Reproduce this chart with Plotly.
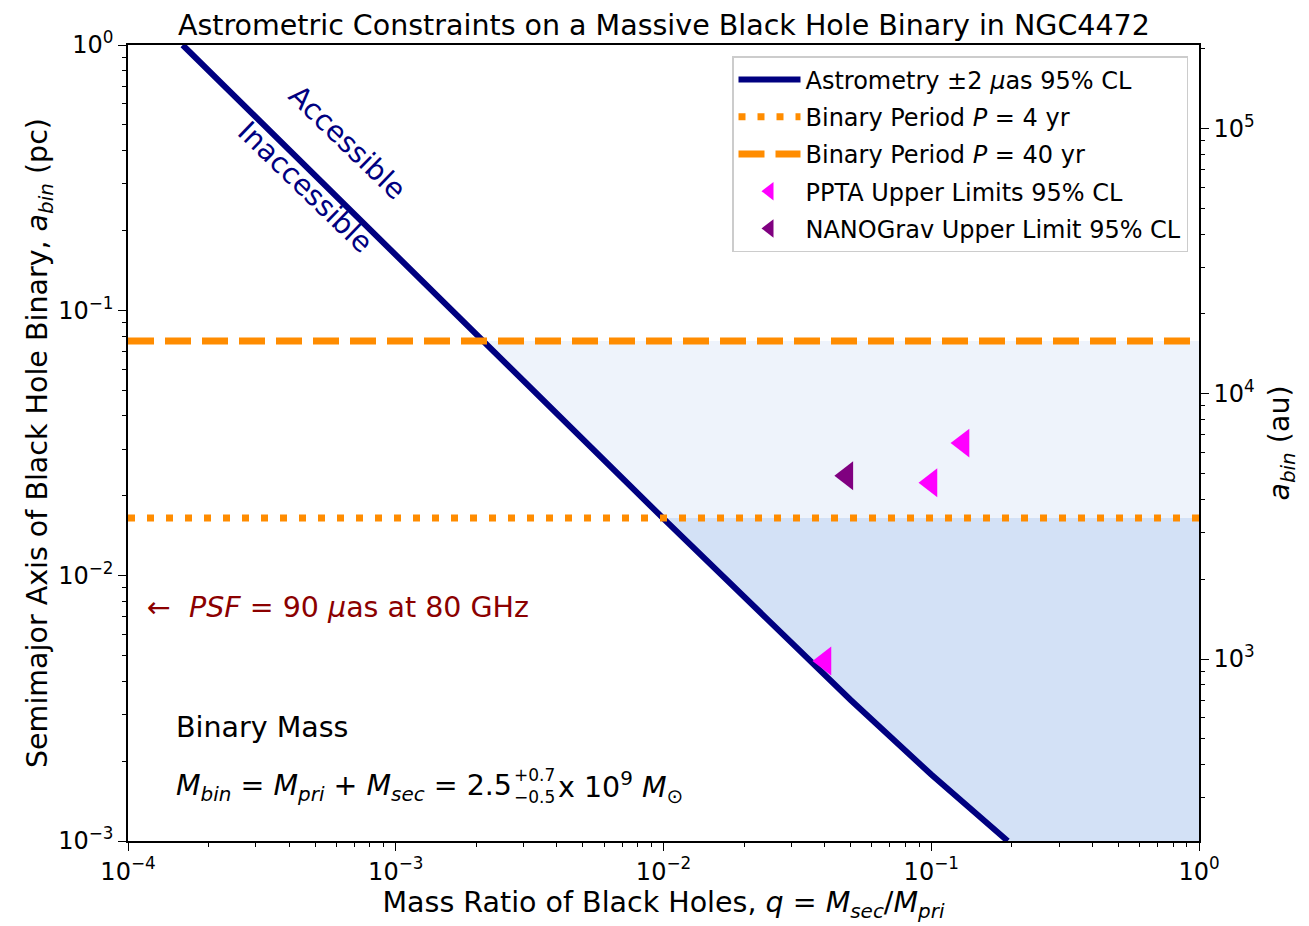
import numpy as np
import plotly.graph_objects as go

# ---------------- data ----------------
# astrometric limit line (q, a_bin [pc])
line_q = [1.6e-4, 1e-3, 2.1e-3, 1e-2, 5e-2, 0.1, 0.193]
line_a = [1.0, 0.162, 0.077, 0.0164, 0.0034, 0.00178, 0.001]

period_4yr_a = 0.0165   # pc
period_40yr_a = 0.0766  # pc

ppta_q = [0.1315, 0.0998, 0.0401]
ppta_a = [0.0316, 0.0224, 0.00477]
nano_q = [0.0484]
nano_a = [0.0238]

x_range = [1e-4, 1.0]
y_range = [1e-3, 1.0]
pc_to_au = 206265.0

x_ticks = [1e-4, 1e-3, 1e-2, 1e-1, 1.0]
x_ticktext = ["10<sup>−4</sup>", "10<sup>−3</sup>", "10<sup>−2</sup>", "10<sup>−1</sup>", "10<sup>0</sup>"]
y_ticks = [1e-3, 1e-2, 1e-1, 1.0]
y_ticktext = ["10<sup>−3</sup>", "10<sup>−2</sup>", "10<sup>−1</sup>", "10<sup>0</sup>"]
y2_ticks = [1e3, 1e4, 1e5]
y2_ticktext = ["10<sup>3</sup>", "10<sup>4</sup>", "10<sup>5</sup>"]

NAVY = "#000080"
ORANGE = "#ff8c00"
FONT = "DejaVu Sans"
FS_TICK = 24
FS_LARGE = 28.5

def minor_vals(lo_exp, hi_exp):
    return [m * 10.0 ** e for e in range(lo_exp, hi_exp) for m in range(2, 10)]

# intersection of line with a horizontal level (log interpolation)
lq = np.log10(line_q)
la = np.log10(line_a)
def q_at(a):
    return 10 ** np.interp(np.log10(a), la[::-1], lq[::-1])

q40 = q_at(period_40yr_a)
q4 = q_at(period_4yr_a)

fig = go.Figure()

# light region between P=40 and P=4 levels, right of line
mid_q = [q for q in line_q if q40 < q < q4]
mid_a = [a for q, a in zip(line_q, line_a) if q40 < q < q4]
fig.add_trace(go.Scatter(
    x=[q40, 1.0, 1.0, q4] + mid_q[::-1] + [q40],
    y=[period_40yr_a, period_40yr_a, period_4yr_a, period_4yr_a] + mid_a[::-1] + [period_40yr_a],
    fill="toself", fillcolor="#eef3fb", line=dict(width=0), mode="lines",
    showlegend=False, hoverinfo="skip"))

# darker region below P=4 level, right of line
low_q = [q for q in line_q if q > q4]
low_a = [a for q, a in zip(line_q, line_a) if q > q4]
fig.add_trace(go.Scatter(
    x=[q4, 1.0, 1.0] + low_q[::-1] + [q4],
    y=[period_4yr_a, period_4yr_a, y_range[0]] + low_a[::-1] + [period_4yr_a],
    fill="toself", fillcolor="#d3e1f6", line=dict(width=0), mode="lines",
    showlegend=False, hoverinfo="skip"))

fig.add_trace(go.Scatter(
    x=line_q, y=line_a, mode="lines", line=dict(color=NAVY, width=6),
    name="Astrometry ±2 <i>μ</i>as 95% CL", legendgroup="g1"))

fig.add_trace(go.Scatter(
    x=x_range, y=[period_4yr_a] * 2, mode="lines",
    line=dict(color=ORANGE, width=7, dash="7px,12px"),
    name="Binary Period <i>P</i> = 4 yr", legendgroup="g2"))

fig.add_trace(go.Scatter(
    x=x_range, y=[period_40yr_a] * 2, mode="lines",
    line=dict(color=ORANGE, width=7, dash="26px,11px"),
    name="Binary Period <i>P</i> = 40 yr", legendgroup="g3"))

fig.add_trace(go.Scatter(
    x=ppta_q, y=ppta_a, mode="markers",
    marker=dict(symbol="triangle-left", color="#ff00ff", size=25, line=dict(width=0)),
    name="PPTA Upper Limits 95% CL", legendgroup="g4"))

fig.add_trace(go.Scatter(
    x=nano_q, y=nano_a, mode="markers",
    marker=dict(symbol="triangle-left", color="#800080", size=25, line=dict(width=0)),
    name="NANOGrav Upper Limit 95% CL", legendgroup="g5"))

# dummy trace for right axis
fig.add_trace(go.Scatter(
    x=[x_range[0]], y=[y_range[0] * pc_to_au], yaxis="y2", mode="markers",
    marker=dict(opacity=0), showlegend=False, hoverinfo="skip"))

axis_common = dict(
    type="log", showgrid=False, zeroline=False, showline=True,
    linecolor="black", linewidth=1.5, ticks="outside", ticklen=8, tickwidth=1.3,
    tickcolor="black", tickfont=dict(family=FONT, size=FS_TICK, color="black"),
)
minor_common = dict(ticks="outside", ticklen=4.5, tickwidth=1, tickcolor="black", showgrid=False)

fig.update_layout(
    width=1309, height=926,
    margin=dict(l=120, r=118, t=37, b=93),
    paper_bgcolor="white", plot_bgcolor="white",
    font=dict(family=FONT, color="black"),
    title=dict(text="Astrometric Constraints on a Massive Black Hole Binary in NGC4472",
               x=(663 - 8) / 1309, xref="paper", xanchor="center",
               y=1 - 17 / 926, yref="container", yanchor="middle",
               font=dict(family=FONT, size=FS_LARGE, color="black")),
    xaxis=dict(**axis_common, range=[np.log10(x_range[0]), np.log10(x_range[1])],
               tickvals=x_ticks, ticktext=x_ticktext, mirror=True,
               minor=dict(**minor_common, tickvals=minor_vals(-4, 0)),
               title=dict(text="Mass Ratio of Black Holes, <i>q</i> = <i>M<sub>sec</sub></i>/<i>M<sub>pri</sub></i>",
                          font=dict(family=FONT, size=FS_LARGE, color="black"), standoff=8)),
    yaxis=dict(**axis_common, range=[np.log10(y_range[0]), np.log10(y_range[1])],
               tickvals=y_ticks, ticktext=y_ticktext,
               minor=dict(**minor_common, tickvals=minor_vals(-3, 0)),
               title=dict(text="Semimajor Axis of Black Hole Binary, <i>a<sub>bin</sub></i> (pc)",
                          font=dict(family=FONT, size=FS_LARGE, color="black"), standoff=0)),
    yaxis2=dict(**axis_common, overlaying="y", side="right", anchor="x",
                range=[np.log10(y_range[0] * pc_to_au), np.log10(y_range[1] * pc_to_au)],
                tickvals=y2_ticks, ticktext=y2_ticktext,
                minor=dict(**minor_common, tickvals=minor_vals(2, 6)),
                title=dict(text="<i>a<sub>bin</sub></i> (au)",
                           font=dict(family=FONT, size=FS_LARGE, color="black"), standoff=15)),
    legend=dict(x=(1188 - 128) / 1071, y=(841 - 56) / 796, xanchor="right", yanchor="top",
                bgcolor="rgba(255,255,255,0.85)", bordercolor="#cccccc", borderwidth=1.5,
                font=dict(family=FONT, size=FS_TICK, color="black"),
                tracegroupgap=3, itemwidth=62),
    showlegend=True,
)

# text annotations
fig.add_annotation(x=np.log10(6.6e-4), y=np.log10(0.43), xref="x", yref="y",
                   text="Accessible", showarrow=False, textangle=44,
                   font=dict(family=FONT, size=FS_LARGE, color=NAVY))
fig.add_annotation(x=np.log10(4.6e-4), y=np.log10(0.29), xref="x", yref="y",
                   text="Inaccessible", showarrow=False, textangle=44,
                   font=dict(family=FONT, size=FS_LARGE, color=NAVY))
fig.add_annotation(x=(145 - 128) / 1071, y=(841 - 607) / 796, xref="paper", yref="paper",
                   xanchor="left", yanchor="middle",
                   text="←  <i>PSF</i> = 90 <i>μ</i>as at 80 GHz", showarrow=False,
                   font=dict(family=FONT, size=FS_LARGE, color="#8b0000"))
fig.add_annotation(x=(174 - 128) / 1071, y=(841 - 727) / 796, xref="paper", yref="paper",
                   xanchor="left", yanchor="middle",
                   text="Binary Mass", showarrow=False,
                   font=dict(family=FONT, size=FS_LARGE, color="black"))
fig.add_annotation(x=(174 - 128) / 1071, y=(841 - 787) / 796, xref="paper", yref="paper",
                   xanchor="left", yanchor="middle",
                   text="<i>M<sub>bin</sub></i> = <i>M<sub>pri</sub></i> + <i>M<sub>sec</sub></i> = 2.5",
                   showarrow=False,
                   font=dict(family=FONT, size=FS_LARGE, color="black"))
fig.add_annotation(x=(512 - 128) / 1071, y=(841 - 786) / 796, xref="paper", yref="paper",
                   xanchor="left", yanchor="middle", align="left",
                   text="+0.7<br>−0.5", showarrow=False,
                   font=dict(family=FONT, size=17, color="black"))
fig.add_annotation(x=(556 - 128) / 1071, y=(841 - 787) / 796, xref="paper", yref="paper",
                   xanchor="left", yanchor="middle",
                   text="x 10<sup>9</sup> <i>M</i><sub>⊙</sub>", showarrow=False,
                   font=dict(family=FONT, size=FS_LARGE, color="black"))

fig.write_html("out.html")
